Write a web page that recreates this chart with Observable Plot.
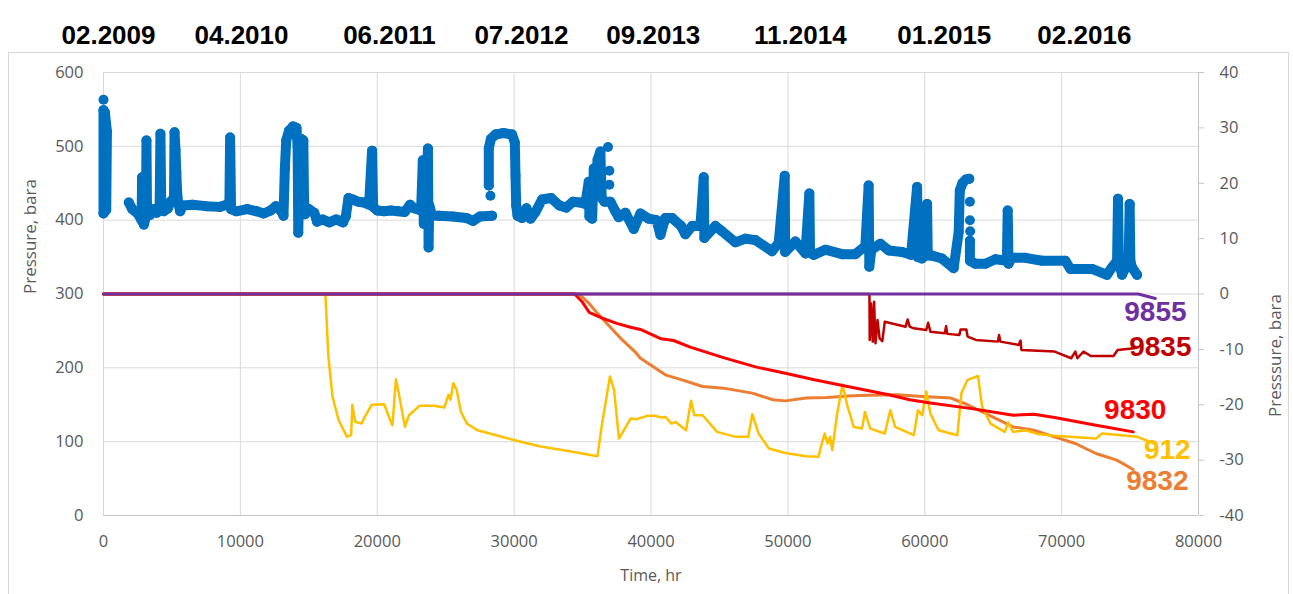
<!DOCTYPE html>
<html><head><meta charset="utf-8">
<script src="https://cdn.jsdelivr.net/npm/d3@7"></script>
<script src="https://cdn.jsdelivr.net/npm/@observablehq/plot@0.6"></script>
<style>
body{margin:0;background:#fff;}
#chart{position:relative;width:1293px;height:594px;}
</style></head><body><div id="chart"></div>
<script>
// ---- tick values / labels ----
const xTicks = [0,10000,20000,30000,40000,50000,60000,70000,80000];
const leftTicks = [0,100,200,300,400,500,600];
const rightTicks = [-40,-30,-20,-10,0,10,20,30,40];
const dateLabels = ["02.2009","04.2010","06.2011","07.2012","09.2013","11.2014","01.2015","02.2016"];
const dateT = [365,10080,20890,30530,40170,50910,61430,71660];

// ---- blue pressure points [time hr, pressure bara] (left axis) ----
const blueSeg1 = [[0,549],[0,409],[200,414],[250,520],[100,546]];
const blueSeg2 = [[1850,424],[2100,415],[2500,409],[2780,400],[2820,458],[2860,398],[2950,394],[3100,405],[3140,508],[3180,410],[3400,407],[3700,415],[3900,410],[4100,420],[4160,517],[4220,418],[4400,412],[4700,416],[4900,425],[5150,430],[5190,519],[5260,495],[5320,465],[5380,438],[5450,424],[5600,412],[5800,420],[6500,421],[7500,419],[8500,418],[9000,421],[9200,425],[9250,512],[9320,415],[9700,412],[10500,415],[11200,412],[11700,409],[12200,413],[12600,419],[13000,412],[13150,406],[13250,470],[13350,508],[13550,521],[13850,527],[14100,525],[14180,500],[14230,383],[14300,455],[14350,500],[14450,510],[14600,508],[14650,430],[14720,408],[15000,415],[15400,410],[15600,398],[16000,401],[16500,397],[17000,401],[17500,397],[17700,405],[17900,430],[18200,428],[18600,425],[19000,424],[19400,421],[19620,494],[19700,418],[20000,413],[20500,412],[21000,413],[21500,412],[22000,411],[22400,421],[22700,416],[23200,413],[23330,481],[23400,395],[23600,418],[23700,497],[23750,363],[23800,420],[24000,406],[24500,406],[25500,405],[26500,403],[27000,399],[27500,405],[28390,406]];
const blueSeg3 = [[28150,447],[28150,497],[28300,510],[28640,516],[29200,518],[29850,516],[30050,505],[30100,460],[30150,420],[30250,406],[30580,403],[30900,416],[31200,402],[31560,411],[32040,428],[32700,430],[33300,420],[33800,417],[34300,425],[34800,424],[35200,422],[35450,452],[35500,405],[35700,402],[35820,470],[35900,440],[36100,482],[36300,493],[36400,430],[36600,425],[37030,425],[37400,412],[37640,404],[38130,410],[38740,388],[39230,409],[39840,402],[40400,400],[40690,380],[41050,403],[41540,403],[42200,392],[42510,381],[43000,392],[43610,392],[43850,458],[43900,376],[44700,392],[45190,385],[46170,370],[46900,375],[47626,373],[48840,358],[49330,369],[49770,460],[49800,357],[50550,371],[51280,355],[51570,436],[51620,356],[51890,353],[52740,360],[53960,354],[54930,354],[55660,365],[55900,447],[55950,337],[56100,360],[56760,368],[57370,359],[58340,357],[59000,353],[59440,445],[59500,350],[59800,348],[60170,422],[60220,352],[60530,352],[61260,348],[62110,335],[62480,384],[62560,440],[62750,450],[63000,455],[63250,456]];
const blueSeg4 = [[63300,372],[63300,345],[63700,341],[64430,341],[65160,347],[66000,345],[66060,413],[66120,341],[66370,349],[67350,349],[68570,345],[70270,345],[70640,334],[72220,334],[73310,326],[73680,336],[74050,345],[74120,429],[74180,345],[74410,326],[74900,345],[74970,422],[75020,345],[75140,336],[75510,326]];
const blueLoose = [[0,563],[28270,433],[36860,499],[36960,467],[36960,448],[63300,425],[63300,400],[63320,385]];

// ---- well series [time hr, pressure bara] (right axis) ----
const w912 = [[0,0],[16210,0],[16430,-11.3],[16730,-18.5],[17180,-22.8],[17790,-25.8],[18090,-25.5],[18180,-20.0],[18390,-23.1],[18850,-23.4],[19150,-21.9],[19600,-20.0],[20510,-19.9],[20810,-21.9],[21110,-23.7],[21360,-15.4],[21570,-17.9],[22020,-24.0],[22320,-21.9],[23080,-20.2],[24140,-20.2],[24900,-20.5],[25200,-18.2],[25350,-19.1],[25560,-16.1],[25800,-17.3],[26110,-21.3],[26560,-23.4],[27320,-24.6],[28830,-25.6],[30040,-26.4],[31850,-27.5],[34270,-28.5],[36090,-29.3],[36390,-24.0],[37000,-14.9],[37300,-17.3],[37660,-26.1],[38510,-22.5],[38960,-22.6],[39720,-22.0],[40290,-22.0],[40740,-22.3],[41050,-22.2],[41500,-23.4],[41800,-23.1],[42560,-24.6],[42920,-19.3],[43170,-21.9],[43770,-21.9],[44830,-24.9],[46190,-25.8],[47100,-25.8],[47400,-21.7],[47860,-25.2],[48610,-27.9],[49820,-28.7],[51330,-29.3],[52240,-29.4],[52450,-27.3],[52690,-25.2],[52910,-27.0],[53090,-25.8],[53240,-28.2],[53600,-21.6],[53990,-16.4],[54360,-20.3],[54810,-24.0],[55420,-24.3],[55630,-21.3],[56020,-24.3],[57080,-25.2],[57480,-21.0],[57840,-24.0],[59200,-25.5],[59500,-21.0],[59810,-21.9],[60110,-17.6],[60410,-21.6],[61010,-24.6],[62380,-25.5],[62680,-17.9],[63130,-15.5],[63890,-14.8],[64190,-20.3],[64800,-23.4],[65850,-24.9],[66100,-23.2],[66460,-24.9],[67370,-24.6],[68280,-25.3],[69490,-25.6],[72510,-26.1],[72960,-25.2],[75540,-25.8],[76750,-27.0]];
const w9830 = [[0,0],[34420,0],[35000,-1.5],[35480,-3.3],[36390,-4.3],[37500,-5.3],[38500,-6.0],[39230,-6.4],[40740,-8.1],[41650,-8.4],[42870,-9.6],[45290,-11.5],[47700,-13.2],[49820,-14.3],[51930,-15.5],[54360,-16.7],[57380,-18.2],[58900,-19.1],[60410,-19.7],[63440,-20.7],[66460,-21.9],[67980,-21.7],[69490,-22.3],[72510,-23.7],[75230,-24.9]];
const w9832 = [[0,0],[34730,0],[35480,-1.7],[36090,-3.5],[37000,-5.9],[37900,-8.3],[38820,-10.4],[39230,-11.6],[40140,-13.1],[41050,-14.6],[42260,-15.5],[43770,-16.7],[45290,-17.0],[47400,-17.9],[48910,-19.1],[49820,-19.3],[51330,-18.8],[52850,-18.7],[54360,-18.4],[55870,-18.3],[57990,-18.2],[59800,-18.5],[61920,-18.8],[63130,-20.0],[64950,-22.2],[66460,-24.0],[67980,-24.6],[69490,-25.8],[71000,-27.0],[72510,-28.8],[74030,-30.0],[75230,-31.7]];
const w9835 = [[0,0],[55960,0],[55980,-8.3],[56080,-1.7],[56200,-8.6],[56300,-1.4],[56400,-8.9],[56550,-4.7],[56700,-8.0],[56900,-8.5],[57080,-5.0],[58600,-5.9],[58750,-4.6],[58900,-5.9],[59200,-6.2],[60110,-6.5],[60250,-5.2],[60410,-6.8],[61470,-7.1],[61560,-5.8],[61650,-7.2],[62530,-7.4],[62620,-6.4],[63040,-6.4],[63130,-7.7],[63740,-8.3],[65340,-8.6],[65430,-7.4],[65520,-8.6],[66850,-9.2],[67000,-8.4],[67060,-10.1],[69490,-10.4],[70700,-11.6],[71000,-10.4],[71150,-11.6],[71300,-11.2],[71600,-10.4],[72130,-11.2],[73790,-11.2],[74090,-10.1],[75320,-9.8]];
const w9855 = [[0,0],[75600,0],[76850,-0.8]];

// ---- series names, colours, label anchors (right-axis units) ----
const wellNames = ["9855","9835","9830","912","9832"];
const wellColors = ["#7030A0","#C00000","#FF0000","#FFC000","#ED7D31"];
const labelT = [76850,77210,75380,77720,76990];
const labelR = [-3.3,-9.6,-20.9,-28.2,-33.8];

// right axis r maps onto left scale: 0 <-> 300, 40 <-> 600
const toLeft = r => 300 + 7.5 * r;
const fromLeft = p => (p - 300) / 7.5;

const blueLine = [];
[blueSeg1, blueSeg2, blueSeg3, blueSeg4].forEach((seg, i) => seg.forEach(([t, p]) => blueLine.push({t, p, seg: i})));
const blueAll = blueLine.concat(blueLoose.map(([t, p]) => ({t, p, seg: -1})));

const wellLine = (arr, color, w) => Plot.line(arr, {x: d => d[0], y: d => toLeft(d[1]), stroke: color, strokeWidth: w, strokeLinejoin: "round"});

const tickFont = "'Open Sans', 'Liberation Sans', sans-serif";

const chart = Plot.plot({
  width: 1293, height: 594,
  marginLeft: 103, marginRight: 95, marginTop: 72, marginBottom: 79,
  x: {domain: [0, 80000]},
  y: {domain: [0, 600]},
  style: {fontFamily: tickFont, fontSize: "16px", color: "#595959", background: "white", overflow: "visible"},
  marks: [
    Plot.gridX(xTicks, {stroke: "#d9d9d9", strokeOpacity: 1}),
    Plot.gridY(leftTicks, {stroke: "#d9d9d9", strokeOpacity: 1}),
    Plot.ruleY([0], {stroke: "#c4c4c4"}),
    Plot.ruleX([80000], {stroke: "#c4c4c4"}),
    Plot.axisY(leftTicks, {anchor: "left", tickSize: 0, tickPadding: 20, fontSize: 16.5, label: null}),
    Plot.axisY(rightTicks.map(toLeft), {anchor: "right", tickSize: 5, tickPadding: 16, stroke: "#c4c4c4", fill: "#595959", fontSize: 16.5, tickFormat: d => fromLeft(d), label: null}),
    Plot.axisX(xTicks, {anchor: "bottom", tickSize: 0, tickPadding: 20, fontSize: 16.5, tickFormat: d => String(d), label: null}),
    Plot.line(blueLine, {x: "t", y: "p", z: "seg", stroke: "#0070C0", strokeWidth: 10, strokeLinejoin: "round", strokeLinecap: "round"}),
    Plot.dot(blueAll, {x: "t", y: "p", r: 5, fill: "#0070C0"}),
    wellLine(w9832, "#ED7D31", 3),
    wellLine(w912, "#FFC000", 2.5),
    wellLine(w9830, "#FF0000", 3),
    wellLine(w9835, "#C00000", 2.5),
    wellLine(w9855, "#7030A0", 3),
    ...wellNames.map((n, i) => Plot.text([n], {x: labelT[i], y: toLeft(labelR[i]), text: d => d, fill: wellColors[i], fontSize: 28, fontWeight: "bold", fontFamily: "'Liberation Sans', Arial, sans-serif", textAnchor: "middle"})),
    Plot.text(dateLabels, {x: (d, i) => dateT[i], text: d => d, frameAnchor: "top", dy: -47, fill: "black", fontSize: 26, fontWeight: "bold", fontFamily: "'Liberation Sans', Arial, sans-serif"}),
    Plot.text(["Pressure, bara"], {text: d => d, frameAnchor: "left", dx: -73, rotate: -90, fontSize: 17, fill: "#595959"}),
    Plot.text(["Presssure, bara"], {text: d => d, frameAnchor: "right", dx: 77, rotate: -90, fontSize: 17, fill: "#595959"}),
    Plot.text(["Time, hr"], {text: d => d, frameAnchor: "bottom", dy: 65, fontSize: 16, fill: "#595959"})
  ]
});

d3.select(chart).insert("rect", ":first-child")
  .attr("x", 8.5).attr("y", 52.5).attr("width", 1280).attr("height", 560)
  .attr("fill", "none").attr("stroke", "#d9d9d9");
d3.select(chart).insert("rect", ":first-child")
  .attr("width", 1293).attr("height", 594).attr("fill", "white");
document.getElementById("chart").appendChild(chart);
</script></body></html>
